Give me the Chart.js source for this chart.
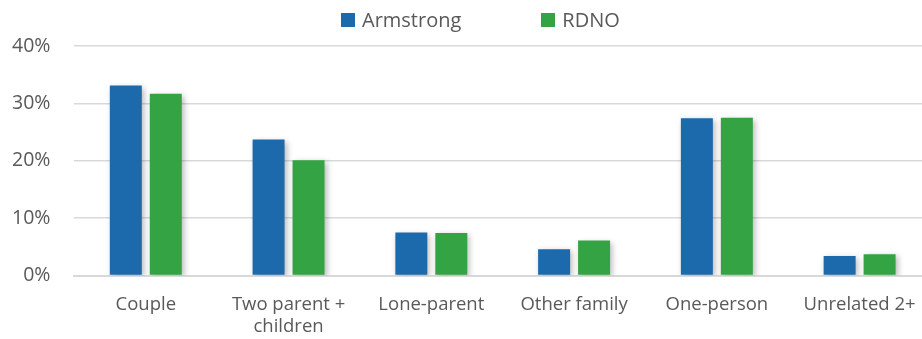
<!DOCTYPE html>
<html lang="en">
<head>
  <meta charset="UTF-8">
  <title>Household types - Armstrong vs RDNO</title>
  <script src="https://cdn.jsdelivr.net/npm/chart.js"></script>
  <style>
    html, body { margin: 0; padding: 0; background: #fff; overflow: hidden; }
    /* the plot area runs a little past the right edge in the original, so the canvas is wider and clipped */
    .wrap { position: relative; width: 922px; height: 339px; overflow: hidden; }
    .legend {
      position: absolute; top: 6px; left: 341px;
      display: flex; align-items: center;
      font-family: "Open Sans", sans-serif; font-size: 20px; color: #595959;
    }
    .legend .item { display: flex; align-items: center; }
    .legend .item + .item { margin-left: 80px; }
    .legend .box { width: 14px; height: 14px; margin-right: 7px; }
  </style>
</head>
<body>
<div class="wrap">
  <canvas id="chart" width="931" height="339"></canvas>
  <div class="legend" id="legend"></div>
</div>

<script>
  // Data
  const categories = ['Couple', ['Two parent +', 'children'], 'Lone-parent', 'Other family', 'One-person', 'Unrelated 2+'];
  const seriesNames = ['Armstrong', 'RDNO'];
  const armstrong = [33.1, 23.7, 7.5, 4.6, 27.4, 3.4];
  const rdno = [31.7, 20.1, 7.4, 6.1, 27.5, 3.7];
  const yTicks = [0, 10, 20, 30, 40];
  const colors = ['#1c6aab', '#34a343'];

  // Legend in HTML so the spacing between the two items can match
  const legend = document.getElementById('legend');
  seriesNames.forEach((name, i) => {
    const item = document.createElement('div');
    item.className = 'item';
    item.innerHTML = `<span class="box" style="background:${colors[i]}"></span><span>${name}</span>`;
    legend.appendChild(item);
  });

  // soft drop shadow behind the bars
  const barShadow = {
    id: 'barShadow',
    beforeDatasetsDraw(chart) {
      const ctx = chart.ctx;
      ctx.save();
      ctx.shadowColor = 'rgba(0,0,0,0.28)';
      ctx.shadowBlur = 6;
      ctx.shadowOffsetX = 2;
      ctx.shadowOffsetY = 2;
    },
    afterDatasetsDraw(chart) {
      chart.ctx.restore();
    }
  };

  Chart.defaults.font.family = '"Open Sans", sans-serif';
  Chart.defaults.color = '#595959';

  new Chart(document.getElementById('chart'), {
    type: 'bar',
    data: {
      labels: categories,
      datasets: [
        { label: seriesNames[0], data: armstrong, backgroundColor: colors[0] },
        { label: seriesNames[1], data: rdno, backgroundColor: colors[1] }
      ]
    },
    options: {
      responsive: false,
      animation: false,
      categoryPercentage: 0.56,
      barPercentage: 0.8,
      layout: { padding: { top: 46, left: -12, right: 0, bottom: -17 } },
      plugins: {
        legend: { display: false },
        tooltip: { enabled: false }
      },
      scales: {
        x: {
          afterFit(axis) { axis.paddingLeft = 0; axis.paddingRight = 0; },
          grid: { display: false, drawTicks: false, tickLength: 0 },
          border: { display: true, color: '#d9d9d9', width: 2 },
          ticks: { font: { size: 18.5 }, padding: 18, maxRotation: 0, autoSkip: false }
        },
        y: {
          min: 0,
          max: yTicks[yTicks.length - 1],
          afterBuildTicks(axis) { axis.ticks = yTicks.map(v => ({ value: v })); },
          grid: { color: '#d9d9d9', lineWidth: 1.5, drawTicks: false },
          border: { display: false },
          ticks: { font: { size: 19.5 }, padding: 24, callback: v => v + '%' }
        }
      }
    },
    plugins: [barShadow]
  });
</script>
</body>
</html>
